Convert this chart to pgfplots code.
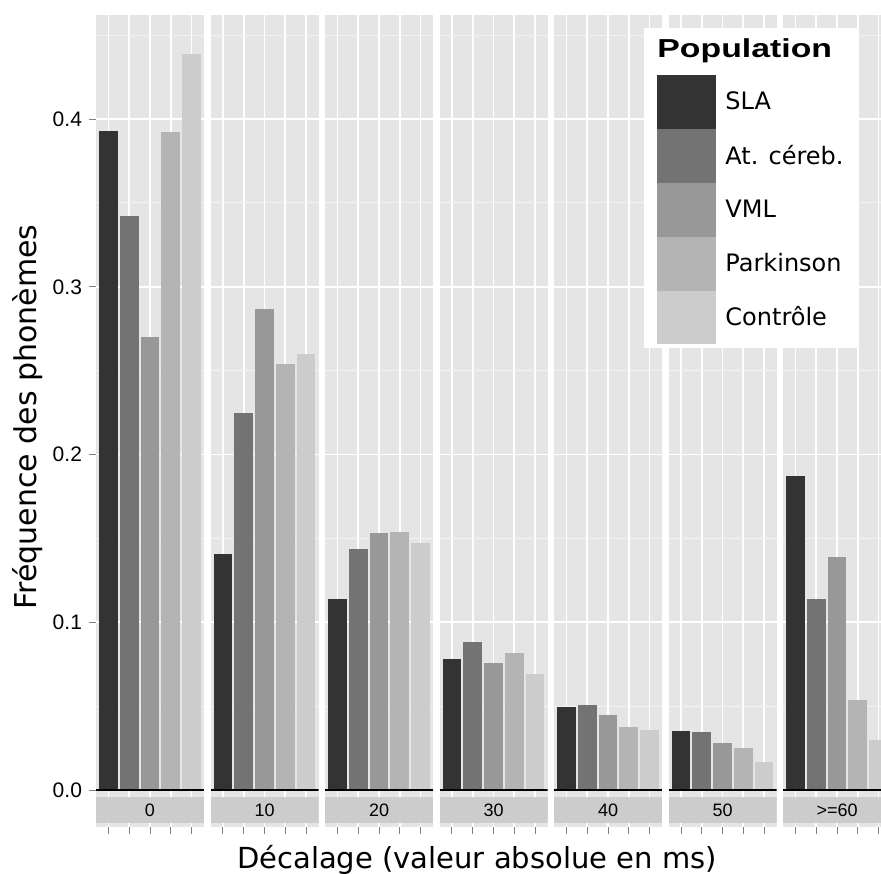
\documentclass[border=0pt]{standalone}
\usepackage{fontspec}
\setmainfont{DejaVu Sans}
\newfontfamily\arial{Liberation Sans}
\usepackage{pgfplots}
\pgfplotsset{compat=1.18}
\usepgfplotslibrary{groupplots}

\definecolor{sla}{HTML}{333333}
\definecolor{ataxie}{HTML}{737373}
\definecolor{vml}{HTML}{989898}
\definecolor{parkinson}{HTML}{B4B4B4}
\definecolor{controle}{HTML}{CCCCCC}
\definecolor{panelbg}{HTML}{E5E5E5}
\definecolor{minorgrid}{HTML}{F2F2F2}
\definecolor{stripbg}{HTML}{CCCCCC}
\definecolor{tickgray}{HTML}{7F7F7F}

% facet strip drawn inside the bottom of each panel
\newcommand{\strip}[1]{%
  \fill[stripbg] (rel axis cs:0,0.0049) rectangle (rel axis cs:1,0.0369);
  \node[font=\arial\fontsize{9}{10}\selectfont, inner sep=0pt] at (rel axis cs:0.5,0.0209) {#1};
}

\pgfplotsset{
  facet/.style={
    width=54pt, height=406pt, scale only axis,
    ybar, bar shift=0pt, bar width=0.9,
    xmin=0.4, xmax=5.6, ymin=-0.022, ymax=0.462,
    axis background/.style={fill=panelbg},
    axis line style={draw=none},
    xtick={1,2,3,4,5}, xticklabels={},
    ytick={0,0.1,0.2,0.3,0.4},
    minor ytick={0.05,0.15,0.25,0.35,0.45},
    grid=both,
    major grid style={white, line width=0.9pt},
    minor grid style={minorgrid, line width=0.5pt},
    tick align=outside, major tick length=3.5pt, minor tick length=0pt,
    tick style={tickgray, line width=0.5pt},
    xtick pos=bottom, ytick pos=left,
    yticklabel style={font=\arial\fontsize{10.5}{12}\selectfont, text=black},
    /pgf/number format/.cd, fixed, fixed zerofill, precision=1, assume math mode=true,
    /pgfplots/.cd,
    every axis plot/.append style={draw=none},
    legend image code/.code={%
      \path (0pt,-13.45pt) rectangle (29.5pt,13.45pt);
      \fill[##1] (0pt,-13.2pt) rectangle (29.5pt,13.2pt);
    },
  },
  hidey/.style={yticklabels={}, ytick style={draw=none}},
}

\begin{document}
\begin{tikzpicture}
\begin{groupplot}[
  group style={group size=7 by 1, horizontal sep=3.25pt},
  facet,
]
% 0
\nextgroupplot[
  ylabel={Fréquence des phonèmes},
  ylabel style={at={(axis description cs:-0.778,0.505)}, anchor=north, inner sep=0pt,
    font=\fontsize{15}{18}\selectfont},
]
\addplot[fill=sla] coordinates {(1,0.393)};
\addplot[fill=ataxie] coordinates {(2,0.342)};
\addplot[fill=vml] coordinates {(3,0.270)};
\addplot[fill=parkinson] coordinates {(4,0.392)};
\addplot[fill=controle] coordinates {(5,0.439)};
\addplot[sharp plot, draw=black, line width=0.75pt] coordinates {(0.4,0) (5.6,0)};
\strip{0}
% 10
\nextgroupplot[hidey]
\addplot[fill=sla] coordinates {(1,0.141)};
\addplot[fill=ataxie] coordinates {(2,0.225)};
\addplot[fill=vml] coordinates {(3,0.287)};
\addplot[fill=parkinson] coordinates {(4,0.254)};
\addplot[fill=controle] coordinates {(5,0.260)};
\addplot[sharp plot, draw=black, line width=0.75pt] coordinates {(0.4,0) (5.6,0)};
\strip{10}
% 20
\nextgroupplot[hidey]
\addplot[fill=sla] coordinates {(1,0.114)};
\addplot[fill=ataxie] coordinates {(2,0.144)};
\addplot[fill=vml] coordinates {(3,0.153)};
\addplot[fill=parkinson] coordinates {(4,0.154)};
\addplot[fill=controle] coordinates {(5,0.147)};
\addplot[sharp plot, draw=black, line width=0.75pt] coordinates {(0.4,0) (5.6,0)};
\strip{20}
% 30
\nextgroupplot[hidey,
  xlabel={Décalage (valeur absolue en ms)},
  xlabel style={at={(axis description cs:0.347,-0.0505)}, anchor=base, inner sep=0pt,
    font=\fontsize{14.5}{17}\selectfont},
]
\addplot[fill=sla] coordinates {(1,0.078)};
\addplot[fill=ataxie] coordinates {(2,0.088)};
\addplot[fill=vml] coordinates {(3,0.076)};
\addplot[fill=parkinson] coordinates {(4,0.082)};
\addplot[fill=controle] coordinates {(5,0.069)};
\addplot[sharp plot, draw=black, line width=0.75pt] coordinates {(0.4,0) (5.6,0)};
\strip{30}
% 40
\nextgroupplot[hidey]
\addplot[fill=sla] coordinates {(1,0.0495)};
\addplot[fill=ataxie] coordinates {(2,0.051)};
\addplot[fill=vml] coordinates {(3,0.045)};
\addplot[fill=parkinson] coordinates {(4,0.0375)};
\addplot[fill=controle] coordinates {(5,0.036)};
\addplot[sharp plot, draw=black, line width=0.75pt] coordinates {(0.4,0) (5.6,0)};
\strip{40}
% 50
\nextgroupplot[hidey]
\addplot[fill=sla] coordinates {(1,0.035)};
\addplot[fill=ataxie] coordinates {(2,0.0345)};
\addplot[fill=vml] coordinates {(3,0.028)};
\addplot[fill=parkinson] coordinates {(4,0.025)};
\addplot[fill=controle] coordinates {(5,0.017)};
\addplot[sharp plot, draw=black, line width=0.75pt] coordinates {(0.4,0) (5.6,0)};
\strip{50}
% >=60, carries the legend
\nextgroupplot[hidey,
  legend style={at={(axis description cs:-1.287,0.984)}, anchor=north west,
    draw=none, fill=white, inner xsep=6.5pt, inner ysep=2pt,
    row sep=0pt, column sep=4.5pt, nodes={inner sep=0pt},
    font=\fontsize{12}{14}\selectfont},
  legend cell align=left,
]
\addlegendimage{legend image code/.code={\path (0pt,-13pt) rectangle (1pt,8.5pt);}}
\addlegendentry{\hspace*{-34pt}{\arial\bfseries\fontsize{13}{15}\selectfont\scalebox{1.3}[1]{Population}}}
\addplot[fill=sla] coordinates {(1,0.187)};
\addlegendentry{SLA}
\addplot[fill=ataxie] coordinates {(2,0.114)};
\addlegendentry{At. céreb.}
\addplot[fill=vml] coordinates {(3,0.139)};
\addlegendentry{VML}
\addplot[fill=parkinson] coordinates {(4,0.054)};
\addlegendentry{Parkinson}
\addplot[fill=controle] coordinates {(5,0.030)};
\addlegendentry{Contrôle}
\addplot[sharp plot, draw=black, line width=0.75pt, forget plot] coordinates {(0.4,0) (5.6,0)};
\strip{>=60}
\end{groupplot}
\pgfresetboundingbox
\path[use as bounding box] (group c1r1.south west) ++(-48pt,-23pt) rectangle ++(440.5pt,436.5pt);
\end{tikzpicture}
\end{document}
